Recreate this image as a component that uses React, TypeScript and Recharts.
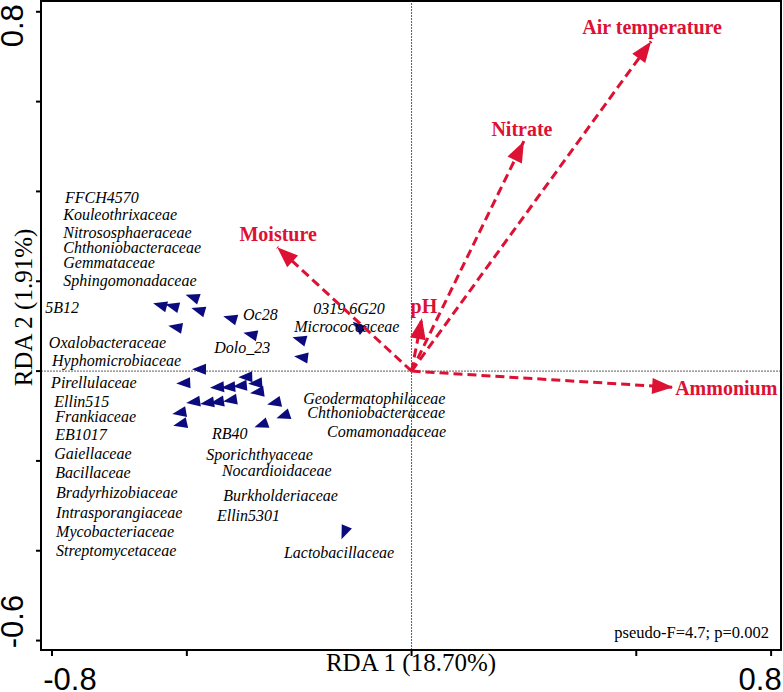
import { ScatterChart, Scatter, XAxis, YAxis, ReferenceLine, ReferenceArea } from "recharts";

const SERIF = "'Liberation Serif', 'Times New Roman', serif";
const SANS = "'Liberation Sans', Arial, sans-serif";
const RED = "#DD1133";
const NAVY = "#0B0B7E";

// axis ranges of the ordination plot
const xDomain = [-0.8245, 0.822];
const yDomain = [-0.621, 0.824];
const xTicks = [-0.8, -0.5, 0, 0.5, 0.8];
const yTicks = [0.8, 0.6, 0.4, 0.2, 0, -0.2, -0.4, -0.6];
const labelledTicks = [-0.8, 0.8, -0.6];

// environmental vectors (biplot scores)
const envNames = ["Air temperature", "Nitrate", "Moisture", "pH", "Ammonium"];
const envRda1 = [0.533, 0.25, -0.299, 0.023, 0.582];
const envRda2 = [0.734, 0.512, 0.276, 0.118, -0.036];

// taxa scores
const taxaRda1 = [
  -0.56, -0.533, -0.488, -0.475, -0.526, -0.404, -0.359, -0.25, -0.246, -0.119,
  -0.473, -0.508, -0.37, -0.348, -0.433, -0.408, -0.382, -0.344, -0.486, -0.455,
  -0.433, -0.404, -0.306, -0.517, -0.515, -0.286, -0.335, -0.15,
];
const taxaRda2 = [
  0.147, 0.145, 0.165, 0.136, 0.098, 0.118, 0.082, 0.071, 0.031, 0.1,
  0.004, -0.027, -0.013, -0.027, -0.036, -0.036, -0.033, -0.047, -0.069, -0.071,
  -0.069, -0.065, -0.071, -0.093, -0.118, -0.1, -0.12, -0.36,
];

// family names as placed on the plot
const familyNames = [
  "FFCH4570", "Kouleothrixaceae", "Nitrososphaeraceae", "Chthoniobacteraceae",
  "Gemmataceae", "Sphingomonadaceae", "5B12", "Oxalobacteraceae",
  "Hyphomicrobiaceae", "Pirellulaceae", "Ellin515", "Frankiaceae", "EB1017",
  "Gaiellaceae", "Bacillaceae", "Bradyrhizobiaceae", "Intrasporangiaceae",
  "Mycobacteriaceae", "Streptomycetaceae", "Geodermatophilaceae",
  "Chthoniobacteraceae", "Comamonadaceae", "RB40", "Sporichthyaceae",
  "Nocardioidaceae", "Burkholderiaceae", "Ellin5301", "Lactobacillaceae",
  "Oc28", "0319 6G20", "Micrococcaceae", "Dolo_23",
];
const familyRda1 = [
  -0.771, -0.775, -0.775, -0.775, -0.775, -0.775, -0.815, -0.807, -0.8, -0.802,
  -0.795, -0.793, -0.793, -0.795, -0.793, -0.791, -0.791, -0.791, -0.791, -0.241,
  -0.232, -0.188, -0.444, -0.457, -0.422, -0.419, -0.433, -0.284, -0.375, -0.219,
  -0.261, -0.439,
];
const familyRda2 = [
  0.385, 0.347, 0.307, 0.274, 0.24, 0.2, 0.14, 0.062, 0.022, -0.027,
  -0.069, -0.102, -0.142, -0.185, -0.227, -0.271, -0.316, -0.358, -0.401, -0.062,
  -0.093, -0.136, -0.14, -0.187, -0.223, -0.278, -0.323, -0.405, 0.125, 0.138,
  0.098, 0.051,
];

const statText = "pseudo-F=4.7; p=0.002";

// where each vector name sits relative to its arrow tip (px)
const envLabelPos: Record<string, { dx: number; dy: number; anchor: string }> = {
  "Air temperature": { dx: 1, dy: -7, anchor: "middle" },
  Nitrate: { dx: -2, dy: -5, anchor: "middle" },
  Moisture: { dx: 1, dy: -6, anchor: "middle" },
  pH: { dx: 2, dy: -5, anchor: "middle" },
  Ammonium: { dx: 2, dy: 8, anchor: "start" },
};

const taxaData = taxaRda1.map((x, i) => ({ x, y: taxaRda2[i] }));
const familyData = familyNames.map((name, i) => ({ x: familyRda1[i], y: familyRda2[i], name }));
const envData = envNames.map((name, i) => [
  { x: 0, y: 0, tip: false, name },
  { x: envRda1[i], y: envRda2[i], tip: true, name },
]);

const angleOf = (x: number, y: number) => (Math.atan2(-y, x) * 180) / Math.PI;

const TaxonMark = (props: any) => {
  const { cx, cy, payload } = props;
  const deg = angleOf(payload.x, payload.y);
  return (
    <polygon
      points="7,0 -7,-5.5 -7,5.5"
      fill={NAVY}
      transform={`translate(${cx},${cy}) rotate(${deg})`}
    />
  );
};

const FamilyLabel = (props: any) => {
  const { cx, cy, payload } = props;
  return (
    <text x={cx} y={cy + 5} fontFamily={SERIF} fontStyle="italic" fontSize={16} fill="#000">
      {payload.name}
    </text>
  );
};

const ArrowHead = (props: any) => {
  const { cx, cy, payload } = props;
  if (!payload.tip) return <g />;
  const deg = angleOf(payload.x, payload.y);
  const lp = envLabelPos[payload.name];
  return (
    <g>
      <polygon
        points="0,0 -21,-8 -21,8"
        fill={RED}
        transform={`translate(${cx},${cy}) rotate(${deg})`}
      />
      <text
        x={cx + lp.dx}
        y={cy + lp.dy}
        textAnchor={lp.anchor as any}
        fontFamily={SERIF}
        fontWeight="bold"
        fontSize={20}
        fill={RED}
      >
        {payload.name}
      </text>
    </g>
  );
};

const XTick = (props: any) => {
  const { x, y, payload } = props;
  if (!labelledTicks.includes(payload.value) || payload.value === -0.6) return <g />;
  const shift = payload.value < 0 ? 18 : -11;
  return (
    <text x={x + shift} y={y + 32} textAnchor="middle" fontFamily={SANS} fontSize={31} fill="#000">
      {payload.value.toFixed(1)}
    </text>
  );
};

const YTick = (props: any) => {
  const { x, y, payload } = props;
  if (payload.value !== 0.8 && payload.value !== -0.6) return <g />;
  const cy = payload.value > 0 ? y + 14 : y - 19;
  const bx = x - 11;
  return (
    <text
      x={bx}
      y={cy}
      textAnchor="middle"
      transform={`rotate(-90, ${bx}, ${cy})`}
      fontFamily={SANS}
      fontSize={31}
      fill="#000"
    >
      {payload.value.toFixed(1)}
    </text>
  );
};

const XTitle = (props: any) => {
  const vb = props.viewBox || { x: 41, y: 650, width: 740 };
  return (
    <text x={vb.x + vb.width / 2} y={vb.y + 21} textAnchor="middle" fontFamily={SERIF} fontSize={25} fill="#000">
      RDA 1 (18.70%)
    </text>
  );
};

const YTitle = (props: any) => {
  const vb = props.viewBox || { x: 0, y: 1, height: 649 };
  const bx = vb.x + 32;
  const cy = vb.y + vb.height / 2 - 18;
  return (
    <text
      x={bx}
      y={cy}
      textAnchor="middle"
      transform={`rotate(-90, ${bx}, ${cy})`}
      fontFamily={SERIF}
      fontSize={25}
      fill="#000"
    >
      RDA 2 (1.91%)
    </text>
  );
};

export default function App() {
  return (
    <div style={{ position: "absolute", left: 0, top: 0, background: "#fff" }}>
      <ScatterChart width={783} height={692} margin={{ top: 1, right: 2, bottom: 0, left: 0 }}>
        <XAxis
          type="number"
          dataKey="x"
          domain={xDomain}
          ticks={xTicks}
          allowDataOverflow
          height={42}
          tickSize={6}
          tickLine={{ stroke: "#000", strokeWidth: 2 }}
          axisLine={{ stroke: "#000", strokeWidth: 2 }}
          tick={<XTick />}
          label={{ content: XTitle }}
        />
        <YAxis
          type="number"
          dataKey="y"
          domain={yDomain}
          ticks={yTicks}
          allowDataOverflow
          width={41}
          tickSize={5}
          tickLine={{ stroke: "#000", strokeWidth: 2 }}
          axisLine={{ stroke: "#000", strokeWidth: 2 }}
          tick={<YTick />}
          label={{ content: YTitle }}
        />
        <ReferenceArea
          x1={xDomain[0]}
          x2={xDomain[1]}
          y1={yDomain[0]}
          y2={yDomain[1]}
          fill="none"
          fillOpacity={0}
          stroke="#000"
          strokeWidth={2}
          ifOverflow="visible"
          label={{
            value: statText,
            position: "insideBottomRight",
            offset: 12,
            fontSize: 16.5,
            fill: "#000",
            fontFamily: SERIF,
          }}
        />
        <ReferenceLine x={0} stroke="#333" strokeWidth={0.8} strokeDasharray="2 1" />
        <ReferenceLine y={0} stroke="#333" strokeWidth={0.8} strokeDasharray="2 1" />
        <Scatter data={taxaData} shape={<TaxonMark />} isAnimationActive={false} />
        <Scatter data={familyData} shape={<FamilyLabel />} isAnimationActive={false} />
        {envData.map((d, i) => (
          <Scatter
            key={envNames[i]}
            data={d}
            fill={RED}
            line={{ stroke: RED, strokeWidth: 3, strokeDasharray: "9 5" }}
            shape={<ArrowHead />}
            isAnimationActive={false}
          />
        ))}
      </ScatterChart>
    </div>
  );
}
